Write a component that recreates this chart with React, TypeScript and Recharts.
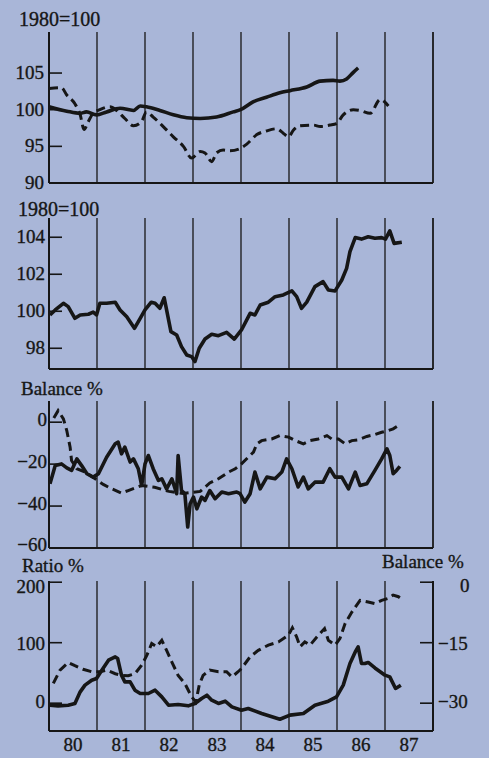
import React from "react";
import { LineChart, Line, XAxis, YAxis, CartesianGrid, ReferenceLine } from "recharts";

// year boundaries (grid lines) and labels centred in each year
const yearTicks = [1980, 1981, 1982, 1983, 1984, 1985, 1986, 1987, 1988];
const yearLabels = ["80", "81", "82", "83", "84", "85", "86", "87"];

// panel 1: 1980 = 100
const p1Ticks = [90, 95, 100, 105];
const p1Solid: [number, number][] = [
  [1980.0, 100.4], [1980.37, 99.8], [1980.65, 99.5], [1980.78, 99.7], [1980.99, 99.3],
  [1981.2, 99.7], [1981.48, 100.2], [1981.76, 99.9], [1981.9, 100.5], [1982.03, 100.4],
  [1982.31, 99.9], [1982.59, 99.3], [1982.87, 98.9], [1983.15, 98.8], [1983.49, 99.0],
  [1983.84, 99.7], [1983.99, 100.0], [1984.26, 101.1], [1984.53, 101.7], [1984.81, 102.3],
  [1985.02, 102.6], [1985.37, 103.1], [1985.65, 103.9], [1985.92, 104.0], [1986.06, 103.9],
  [1986.2, 104.2], [1986.34, 105.1], [1986.44, 105.7],
];
const p1Dashed: [number, number][] = [
  [1980.0, 102.9], [1980.26, 103.0], [1980.37, 102.0], [1980.54, 100.8], [1980.65, 99.3],
  [1980.73, 97.3], [1980.82, 98.4], [1980.92, 99.5], [1981.06, 100.0], [1981.27, 100.4],
  [1981.41, 99.9], [1981.58, 98.8], [1981.76, 97.8], [1981.93, 98.4], [1982.03, 99.7],
  [1982.17, 99.0], [1982.38, 97.7], [1982.59, 96.3], [1982.8, 95.0], [1982.97, 93.4],
  [1983.15, 94.3], [1983.25, 94.1], [1983.39, 92.9], [1983.49, 94.1], [1983.63, 94.5],
  [1983.77, 94.4], [1983.98, 94.7], [1984.12, 95.3], [1984.33, 96.6], [1984.53, 97.1],
  [1984.74, 97.4], [1984.88, 96.8], [1984.99, 96.3], [1985.09, 97.2], [1985.23, 97.8],
  [1985.51, 97.9], [1985.65, 97.7], [1985.85, 97.9], [1985.99, 98.1], [1986.13, 99.3],
  [1986.34, 100.0], [1986.48, 99.9], [1986.69, 99.5], [1986.9, 101.4], [1987.07, 100.5],
];

// panel 2: 1980 = 100
const p2Ticks = [98, 100, 102, 104];
const p2Solid: [number, number][] = [
  [1980.02, 99.8], [1980.13, 100.07], [1980.3, 100.43], [1980.4, 100.25], [1980.54, 99.62],
  [1980.65, 99.8], [1980.82, 99.84], [1980.92, 99.95], [1980.99, 99.8], [1981.06, 100.43],
  [1981.2, 100.43], [1981.38, 100.49], [1981.48, 100.07], [1981.62, 99.7], [1981.78, 99.08],
  [1981.9, 99.62], [1982.0, 100.07], [1982.13, 100.49], [1982.21, 100.43], [1982.31, 100.16],
  [1982.4, 100.73], [1982.45, 100.07], [1982.54, 98.9], [1982.66, 98.72], [1982.76, 98.09],
  [1982.87, 97.64], [1982.97, 97.55], [1983.04, 97.28], [1983.13, 98.0], [1983.25, 98.5],
  [1983.39, 98.76], [1983.53, 98.68], [1983.7, 98.86], [1983.86, 98.5], [1984.01, 98.99],
  [1984.19, 99.89], [1984.29, 99.8], [1984.4, 100.34], [1984.57, 100.49], [1984.71, 100.79],
  [1984.88, 100.88], [1985.06, 101.1], [1985.16, 100.79], [1985.26, 100.16], [1985.37, 100.49],
  [1985.54, 101.33], [1985.71, 101.6], [1985.82, 101.15], [1985.96, 101.1], [1986.1, 101.69],
  [1986.2, 102.32], [1986.27, 103.22], [1986.38, 103.98], [1986.51, 103.9], [1986.65, 104.03],
  [1986.79, 103.95], [1986.93, 103.98], [1987.01, 103.9], [1987.1, 104.34], [1987.19, 103.67],
  [1987.35, 103.73],
];

// panel 3: balance %
const p3Ticks = [-60, -40, -20, 0];
const p3Solid: [number, number][] = [
  [1980.02, -29.4], [1980.13, -20.7], [1980.26, -19.9], [1980.37, -21.8], [1980.47, -23],
  [1980.58, -17.5], [1980.68, -20.7], [1980.79, -24.6], [1980.92, -26.2], [1981.03, -24.6],
  [1981.2, -16.7], [1981.38, -10.3], [1981.44, -9.5], [1981.51, -15.1], [1981.58, -11.9],
  [1981.69, -19], [1981.76, -17.5], [1981.86, -22.2], [1981.93, -30.2], [1982.0, -19.9],
  [1982.07, -15.9], [1982.17, -22.2], [1982.28, -27.8], [1982.35, -27], [1982.45, -31.8],
  [1982.56, -27], [1982.66, -34.1], [1982.69, -15.9], [1982.76, -32.6], [1982.83, -34.1],
  [1982.89, -50], [1982.94, -38.9], [1983.01, -35.7], [1983.08, -41.3], [1983.18, -35.7],
  [1983.25, -37.3], [1983.35, -32.6], [1983.46, -36.5], [1983.6, -33.3], [1983.74, -34.1],
  [1983.91, -33.3], [1983.98, -34.1], [1984.08, -38.1], [1984.19, -34.1], [1984.29, -23.8],
  [1984.4, -31.8], [1984.54, -26.2], [1984.71, -27], [1984.85, -23.8], [1984.95, -17.5],
  [1985.06, -22.2], [1985.19, -30.9], [1985.3, -26.2], [1985.4, -31.8], [1985.54, -28.6],
  [1985.71, -28.6], [1985.85, -22.2], [1985.96, -26.2], [1986.1, -26.2], [1986.24, -31.8],
  [1986.38, -23.8], [1986.48, -30.2], [1986.62, -29.4], [1986.79, -23], [1986.93, -17.5],
  [1987.04, -12.7], [1987.1, -15.9], [1987.17, -24.6], [1987.24, -23], [1987.31, -21.1],
];
const p3Dashed: [number, number][] = [
  [1980.1, 2], [1980.19, 5.5], [1980.3, 1.6], [1980.37, -4], [1980.44, -11.9],
  [1980.47, -18.3], [1980.58, -22.2], [1980.75, -23.8], [1980.96, -27], [1981.13, -29.7],
  [1981.31, -31.8], [1981.51, -33.8], [1981.65, -32.6], [1981.93, -30.2], [1982.2, -31],
  [1982.5, -33], [1982.8, -34], [1983.15, -33], [1983.35, -29], [1983.53, -27],
  [1983.74, -23.8], [1983.88, -22.2], [1984.01, -19.9], [1984.15, -16.7], [1984.26, -14.3],
  [1984.33, -10.3], [1984.43, -8.8], [1984.64, -8], [1984.81, -6.4], [1984.99, -7.1],
  [1985.13, -8.8], [1985.3, -10.3], [1985.44, -8.8], [1985.61, -8], [1985.79, -6.4],
  [1985.89, -8], [1986.03, -8], [1986.17, -10.3], [1986.31, -8.8], [1986.44, -8.4],
  [1986.62, -6.8], [1986.79, -5.9], [1986.93, -4.8], [1987.07, -4], [1987.17, -3.2],
  [1987.28, -1.6],
];

// panel 4: ratio % (left) and balance % (right)
const p4LeftTicks = [0, 100, 200];
const p4RightTicks = [-30, -15, 0];
const p4Ratio: [number, number][] = [
  [1980.02, -3.3], [1980.19, -4.4], [1980.4, -3.3], [1980.54, -0.5], [1980.65, 18.7],
  [1980.75, 29.8], [1980.89, 38], [1980.99, 40.8], [1981.1, 54.5], [1981.24, 71],
  [1981.38, 76.5], [1981.43, 73.9], [1981.51, 46.3], [1981.58, 35.2], [1981.69, 35.2],
  [1981.79, 21.5], [1981.9, 16], [1982.07, 16], [1982.21, 21.5], [1982.35, 10.4],
  [1982.49, -3.3], [1982.69, -2.2], [1982.9, -4.4], [1983.04, -0.5], [1983.18, 7.8],
  [1983.29, 13.2], [1983.39, 5], [1983.53, -0.5], [1983.67, 3.3], [1983.81, -6.1],
  [1984.01, -11.6], [1984.15, -8.8], [1984.43, -17], [1984.81, -26.6], [1985.02, -19.8],
  [1985.3, -17], [1985.54, -3.3], [1985.82, 3.3], [1985.99, 10.4], [1986.13, 29.8],
  [1986.27, 65.6], [1986.38, 84.8], [1986.44, 93.1], [1986.51, 65.6], [1986.58, 65.6],
  [1986.65, 67.3], [1986.79, 58.3], [1987.0, 46.3], [1987.1, 43.5], [1987.22, 24.3],
  [1987.33, 29.8],
];
const p4Balance: [number, number][] = [
  [1980.09, -25.1], [1980.23, -21.8], [1980.4, -19.9], [1980.54, -20.7], [1980.71, -21.6],
  [1980.89, -22.2], [1981.06, -22.2], [1981.2, -21.8], [1981.38, -22.7], [1981.51, -23.1],
  [1981.65, -23.2], [1981.79, -22.7], [1981.93, -20.6], [1982.04, -18.1], [1982.14, -15.2],
  [1982.24, -16], [1982.35, -14.4], [1982.45, -16.9], [1982.56, -19.8], [1982.69, -23.1],
  [1982.83, -25.1], [1982.97, -28.4], [1983.06, -29.7], [1983.13, -25.5], [1983.21, -23.1],
  [1983.35, -21.8], [1983.53, -22.2], [1983.7, -22.2], [1983.81, -23.5], [1983.94, -22.2],
  [1984.01, -21.4], [1984.19, -18.5], [1984.36, -16.9], [1984.57, -15.6], [1984.78, -14.8],
  [1984.99, -13.1], [1985.07, -11.3], [1985.16, -13.6], [1985.23, -16], [1985.33, -14.8],
  [1985.44, -15.6], [1985.58, -13.6], [1985.74, -11.5], [1985.82, -14.4], [1985.96, -15.6],
  [1986.06, -14], [1986.17, -10.2], [1986.31, -7.4], [1986.48, -4.5], [1986.65, -4.9],
  [1986.79, -5.3], [1986.93, -4.5], [1987.07, -4], [1987.17, -3.2], [1987.28, -3.6],
  [1987.35, -4.2],
];

const rows = (pts: [number, number][]) => pts.map(([t, v]) => ({ t, v }));

const ink = "#161616";
const bg = "#a9b6d8";
const serif = "'Liberation Serif', 'DejaVu Serif', serif";
const W = 489;

const fmt = (v: number) => (v < 0 ? `\u2212${Math.abs(v)}` : `${v}`);

// label baseline offset below its tick, per value
const p1Drop = () => 6;
const p2Drop = () => 6;
const p3Drop = (v: number) => (v === -60 ? 3 : 4);
const p4LeftDrop = (v: number) => (v === 200 ? 11 : v === 100 ? 7 : 5);
const p4RightDrop = (v: number) => (v === 0 ? 10 : v === -15 ? 7 : 5);

const LeftTick = (props: any) => {
  const { x, y, payload, shift, drop } = props;
  return (
    <g>
      <line x1={x} x2={x + 13} y1={y} y2={y} stroke={ink} strokeWidth={1.6} />
      <text x={x + shift} y={y + drop(payload.value)} textAnchor="end" fontFamily={serif} fontSize={19}
        fill={ink} stroke={ink} strokeWidth={0.35}>
        {fmt(payload.value)}
      </text>
    </g>
  );
};

const RightTick = (props: any) => {
  const { x, y, payload } = props;
  return (
    <g>
      <line x1={x} x2={x - 13} y1={y} y2={y} stroke={ink} strokeWidth={1.6} />
      <text x={payload.value === 0 ? x + 27 : x + 5} y={y + p4RightDrop(payload.value)} textAnchor="start"
        fontFamily={serif} fontSize={19} fill={ink} stroke={ink} strokeWidth={0.35}>
        {fmt(payload.value)}
      </text>
    </g>
  );
};

const NoTick = () => <g />;

const YearTick = (props: any) => {
  const { x, y, index } = props;
  if (index >= yearLabels.length) return <g />;
  return (
    <text x={x + 24} y={y + 20} textAnchor="middle" fontFamily={serif} fontSize={19} fill={ink}
      stroke={ink} strokeWidth={0.35}>
      {yearLabels[index]}
    </text>
  );
};

const axisLine = { stroke: ink, strokeWidth: 2 };

function Panel(props: {
  top: number; height: number; marginTop: number; xHeight: number;
  domain: [number, number]; ticks: number[]; shift: number; drop: (v: number) => number;
  solid: [number, number][]; dashed?: [number, number][]; smooth?: boolean;
}) {
  const { top, height, marginTop, xHeight, domain, ticks, shift, drop, solid, dashed, smooth } = props;
  return (
    <div style={{ position: "absolute", left: 0, top }}>
      <LineChart width={W} height={height} margin={{ top: marginTop, right: 56, bottom: 0, left: 0 }}>
        <CartesianGrid horizontal={false} stroke={ink} strokeWidth={1.3} />
        <XAxis dataKey="t" type="number" domain={[1980, 1988]} ticks={yearTicks} allowDataOverflow
          interval={0} height={xHeight} tick={<NoTick />} tickLine={false} axisLine={axisLine} />
        <YAxis type="number" domain={domain} ticks={ticks} allowDataOverflow interval={0} width={49}
          tickSize={0} tickMargin={0} tickLine={false} axisLine={axisLine}
          tick={<LeftTick shift={shift} drop={drop} />} />
        <ReferenceLine x={1988} stroke={ink} strokeWidth={1.3} />
        {dashed && (
          <Line data={rows(dashed)} dataKey="v" type={smooth ? "monotone" : "linear"} stroke={ink}
            strokeWidth={3} strokeDasharray="9 5" dot={false} isAnimationActive={false} />
        )}
        <Line data={rows(solid)} dataKey="v" type={smooth ? "monotone" : "linear"} stroke={ink}
          strokeWidth={3.6} strokeLinejoin="round" dot={false} isAnimationActive={false} />
      </LineChart>
    </div>
  );
}

export default function App() {
  const titleStyle = { fontFamily: serif, fontSize: 19, fill: ink, stroke: ink, strokeWidth: 0.35 };
  return (
    <div style={{ position: "fixed", left: 0, top: 0, width: W, height: 758, background: bg, overflow: "hidden" }}>
      <Panel top={0} height={200} marginTop={32} xHeight={17} domain={[90, 110.6]} ticks={p1Ticks}
        shift={-5} drop={p1Drop} solid={p1Solid} dashed={p1Dashed} smooth />
      <Panel top={200} height={180} marginTop={18} xHeight={11} domain={[96.88, 105.04]} ticks={p2Ticks}
        shift={-4} drop={p2Drop} solid={p2Solid} />
      <Panel top={380} height={180} marginTop={21} xHeight={12} domain={[-60, 10.1]} ticks={p3Ticks}
        shift={-2} drop={p3Drop} solid={p3Solid} dashed={p3Dashed} />

      <div style={{ position: "absolute", left: 0, top: 560 }}>
        <LineChart width={W} height={198} margin={{ top: 21, right: 0, bottom: 0, left: 0 }}>
          <CartesianGrid horizontal={false} stroke={ink} strokeWidth={1.3} yAxisId="left" />
          <XAxis dataKey="t" type="number" domain={[1980, 1988]} ticks={yearTicks} allowDataOverflow
            height={27} tickSize={0} tickMargin={0} tickLine={false} axisLine={axisLine} interval={0}
            tick={<YearTick />} />
          <YAxis yAxisId="left" type="number" domain={[-46, 202]} ticks={p4LeftTicks} allowDataOverflow
            interval={0} width={49} tickSize={0} tickMargin={0} tickLine={false} axisLine={axisLine}
            tick={<LeftTick shift={-4} drop={p4LeftDrop} />} />
          <YAxis yAxisId="right" orientation="right" type="number" domain={[-36.9, 0.3]} ticks={p4RightTicks}
            allowDataOverflow interval={0} width={56} tickSize={0} tickMargin={0} tickLine={false}
            axisLine={axisLine} tick={<RightTick />} />
          <Line yAxisId="right" data={rows(p4Balance)} dataKey="v" type="linear" stroke={ink} strokeWidth={3}
            strokeDasharray="9 5" dot={false} isAnimationActive={false} />
          <Line yAxisId="left" data={rows(p4Ratio)} dataKey="v" type="linear" stroke={ink} strokeWidth={3.6}
            strokeLinejoin="round" dot={false} isAnimationActive={false} />
        </LineChart>
      </div>

      <svg width={W} height={758} style={{ position: "absolute", left: 0, top: 0, pointerEvents: "none" }}>
        <text x={19} y={26} {...titleStyle} fontSize={20}>1980=100</text>
        <text x={18} y={216} {...titleStyle} fontSize={20}>1980=100</text>
        <text x={21} y={395} {...titleStyle}>Balance %</text>
        <text x={22} y={572} {...titleStyle}>Ratio %</text>
        <text x={382} y={568} {...titleStyle}>Balance %</text>
      </svg>
    </div>
  );
}
